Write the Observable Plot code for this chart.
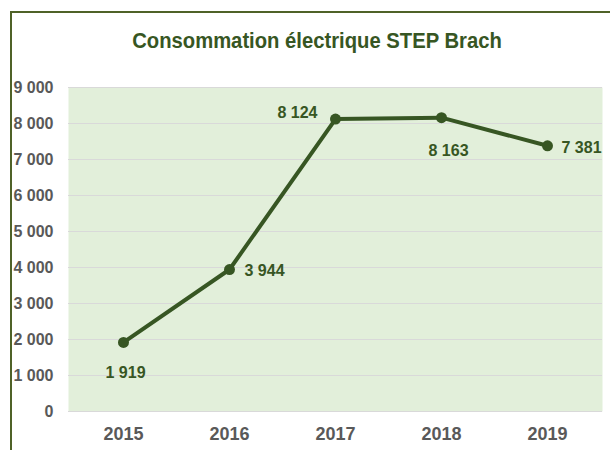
<!DOCTYPE html>
<html>
<head>
<meta charset="utf-8">
<script src="https://cdn.jsdelivr.net/npm/d3@7"></script>
<script src="https://cdn.jsdelivr.net/npm/@observablehq/plot@0.6"></script>
<style>
  html, body { margin: 0; padding: 0; background: #fff; }
  #wrap { position: relative; width: 610px; height: 450px; overflow: hidden; font-family: "Liberation Sans Narrow", "Arial Narrow", "Liberation Sans", sans-serif; }
  #frame { position: absolute; left: 10px; top: 11px; width: 700px; height: 600px; border-left: 2px solid #4f6228; border-top: 2px solid #4f6228; }
  #title { position: absolute; left: 0; width: 634px; top: 28px; text-align: center; font-size: 22px; font-weight: bold; color: #375623; transform: scaleX(0.92); transform-origin: 317px 0; white-space: nowrap; }
  #chart { position: absolute; left: 0; top: 0; }
</style>
</head>
<body>
<div id="wrap">
  <div id="frame"></div>
  <div id="chart"></div>
  <div id="title">Consommation électrique STEP Brach</div>
</div>
<script>
const years = ["2015", "2016", "2017", "2018", "2019"];
const values = [1919, 3944, 8124, 8163, 7381];
const yTicks = [0, 1000, 2000, 3000, 4000, 5000, 6000, 7000, 8000, 9000];
const labelDx = [2, 15, -18, 7, 14];
const labelDy = [30, 1, -6, 33, 2];
const labelAnchor = ["middle", "start", "end", "middle", "start"];

const data = years.map((y, i) => ({year: y, value: values[i], i}));
const fmt = d3.formatLocale({thousands: " ", grouping: [3], decimal: ","}).format(",d");
const green = "#375623";
const font = '"Liberation Sans Narrow", "Arial Narrow", "Liberation Sans", sans-serif';

const labelMarks = data.map((d, i) => Plot.text([d], {
  x: "year", y: "value", text: d => fmt(d.value),
  dx: labelDx[i], dy: labelDy[i], textAnchor: labelAnchor[i],
  fill: green, fontSize: 16, fontWeight: "bold"
}));

const chart = Plot.plot({
  width: 610,
  height: 450,
  marginLeft: 68,
  marginRight: 8,
  marginTop: 87,
  marginBottom: 39,
  style: {fontFamily: font, background: "transparent", overflow: "visible"},
  x: {type: "point", domain: years, padding: 0.5, label: null},
  y: {domain: [0, 9000], label: null},
  marks: [
    Plot.frame({fill: "#e2efda", stroke: null}),
    Plot.ruleY(yTicks, {stroke: "#d9d9d9", strokeWidth: 1}),
    Plot.axisY(yTicks, {tickSize: 0, tickPadding: 15, tickFormat: fmt, fontSize: 16, fontWeight: "bold", fill: "#595959", label: null}),
    Plot.axisX(years, {tickSize: 0, tickPadding: 16, fontSize: 18, fontWeight: "bold", fill: "#595959", label: null}),
    Plot.line(data, {x: "year", y: "value", stroke: green, strokeWidth: 4, strokeLinejoin: "round"}),
    Plot.dot(data, {x: "year", y: "value", r: 5.5, fill: green, stroke: null}),
    ...labelMarks
  ]
});
document.getElementById("chart").appendChild(chart);
</script>
</body>
</html>
